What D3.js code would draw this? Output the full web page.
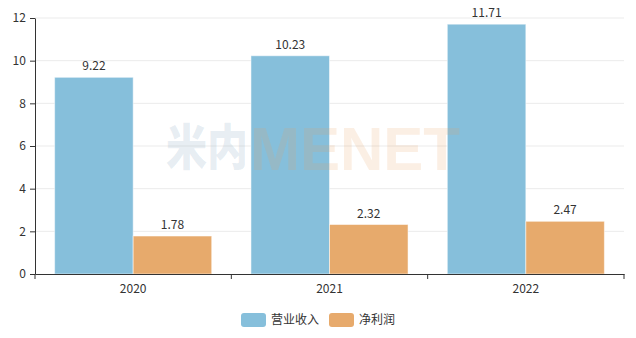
<!DOCTYPE html>
<html>
<head>
<meta charset="utf-8">
<script src="https://cdn.jsdelivr.net/npm/d3@7"></script>
<style>
  body { margin: 0; background: #fff; }
  text { font-family: "Noto Sans CJK SC", "Noto Sans", sans-serif; }
</style>
</head>
<body>
<div class="graph"><svg></svg></div>
<script>
// chart data
const years = ['2020', '2021', '2022']
const seriesNames = ['营业收入', '净利润']
const revenue = [9.22, 10.23, 11.71]
const profit = [1.78, 2.32, 2.47]
const yTicks = [0, 2, 4, 6, 8, 10, 12]
const colors = ['#86bfdb', '#e7aa6c']

const width = 636
const height = 338
const margin = { top: 18, right: 12, bottom: 64, left: 35 }
const innerW = width - margin.left - margin.right
const innerH = height - margin.top - margin.bottom

const svg = d3.select('.graph').select('svg')
  .attr('width', width)
  .attr('height', height)

const g = svg.append('g')
  .attr('transform', 'translate(' + margin.left + ',' + margin.top + ')')

const x = d3.scaleBand().domain(years).range([0, innerW]).paddingInner(0).paddingOuter(0)
// 10% gap at each side of a category
const x1 = d3.scaleBand().domain(seriesNames).range([0, x.bandwidth()]).paddingInner(0).paddingOuter(0.25)
const y = d3.scaleLinear().domain([0, 12]).range([innerH, 0])

// grid lines
g.append('g')
  .selectAll('line')
  .data(yTicks.slice(1))
  .join('line')
  .attr('x1', 0)
  .attr('x2', innerW)
  .attr('y1', d => y(d))
  .attr('y2', d => y(d))
  .attr('stroke', '#ebebeb')

// bars
const values = [revenue, profit]
const rows = []
years.forEach((yr, i) => {
  seriesNames.forEach((s, j) => {
    rows.push({ year: yr, series: s, value: values[j][i], color: colors[j] })
  })
})

const bars = g.append('g')
bars.selectAll('rect')
  .data(rows)
  .join('rect')
  .attr('x', d => x(d.year) + x1(d.series))
  .attr('width', x1.bandwidth())
  .attr('y', d => y(d.value))
  .attr('height', d => innerH - y(d.value))
  .attr('fill', d => d.color)
  .attr('stroke', 'rgba(255,255,255,0.5)')
  .attr('stroke-width', 1)

bars.selectAll('text')
  .data(rows)
  .join('text')
  .attr('x', d => x(d.year) + x1(d.series) + x1.bandwidth() / 2)
  .attr('y', d => y(d.value) - 7)
  .attr('text-anchor', 'middle')
  .attr('font-size', 12)
  .attr('fill', '#333')
  .text(d => d.value.toFixed(2))

// watermark
svg.append('text')
  .attr('transform', 'translate(166,165) scale(1,1.2)')
  .attr('font-size', 41)
  .attr('font-weight', 900)
  .attr('fill', '#6f98b3')
  .attr('fill-opacity', 0.18)
  .text('米内')
svg.append('text')
  .attr('x', 250)
  .attr('y', 170)
  .attr('font-size', 62)
  .attr('font-weight', 'bold')
  .attr('fill', '#e8a15f')
  .attr('fill-opacity', 0.17)
  .style('font-family', '"Liberation Sans", Arial, sans-serif')
  .attr('textLength', 210)
  .attr('lengthAdjust', 'spacingAndGlyphs')
  .text('MENET')

// axes
const xAxis = d3.axisBottom(x).tickSize(0).tickSizeOuter(0)
const xg = g.append('g')
  .attr('transform', 'translate(0,' + innerH + ')')
  .call(xAxis)
xg.select('.domain').attr('stroke', '#333')
xg.selectAll('text').attr('font-size', 12).attr('fill', '#333').attr('dy', '1.3em')
xg.append('g')
  .selectAll('line')
  .data(years.concat(['end']))
  .join('line')
  .attr('x1', (d, i) => i * x.bandwidth())
  .attr('x2', (d, i) => i * x.bandwidth())
  .attr('y1', 0)
  .attr('y2', 5)
  .attr('stroke', '#333')

const yAxis = d3.axisLeft(y).tickValues(yTicks).tickSize(5).tickSizeOuter(0)
const yg = g.append('g').call(yAxis)
yg.select('.domain').attr('stroke', '#333')
yg.selectAll('line').attr('stroke', '#333')
yg.selectAll('text').attr('font-size', 12).attr('fill', '#333').attr('dx', '-0.1em')

// legend
const legend = svg.append('g').attr('transform', 'translate(241,313)')
seriesNames.forEach((s, i) => {
  const item = legend.append('g').attr('transform', 'translate(' + (i * 88) + ',0)')
  item.append('rect')
    .attr('width', 25)
    .attr('height', 14)
    .attr('rx', 3)
    .attr('fill', colors[i])
  item.append('text')
    .attr('x', 30)
    .attr('y', 7)
    .attr('dy', '0.36em')
    .attr('font-size', 12)
    .attr('fill', '#333')
    .text(s)
})
</script>
</body>
</html>
